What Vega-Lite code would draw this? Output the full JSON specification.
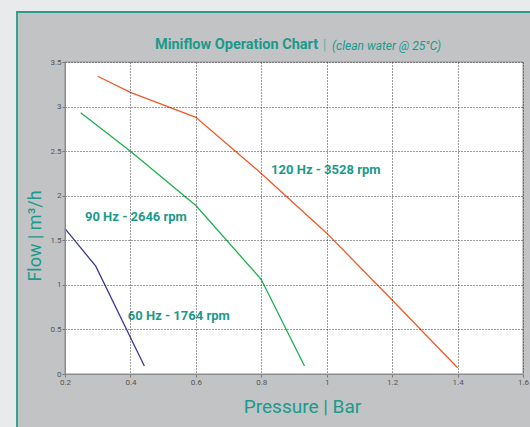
{
  "$schema": "https://vega.github.io/schema/vega-lite/v6.json",
  "autosize": "none",
  "width": 458,
  "height": 312,
  "padding": {"left": 65, "top": 62, "right": 7, "bottom": 53},
  "background": "#e9eaec",
  "config": {
    "view": {"stroke": null},
    "font": "Roboto",
    "axis": {
      "labelExpr": "'' + datum.value",
      "labelFlush": false,
      "labelOverlap": false,
      "labelFontSize": 8,
      "labelColor": "#555555",
      "labelPadding": 1,
      "tickSize": 3,
      "tickColor": "#777777",
      "domainColor": "#8c8c8c",
      "grid": true,
      "gridColor": "#3a3a3a",
      "gridDash": [1, 2],
      "gridWidth": 1,
      "titleFontWeight": "normal",
      "titleColor": "#1b9a8c",
      "titleAlign": "center",
      "titleBaseline": "alphabetic"
    },
    "axisX": {
      "tickCount": 7,
      "titleFontSize": 19,
      "titleX": 237,
      "titleY": 38.6
    },
    "axisY": {
      "tickCount": 7,
      "titleFontSize": 18,
      "titleAngle": -90,
      "titleX": -24.3,
      "titleY": 173.5
    }
  },
  "datasets": {
    "curves": [
      {"series": "120 Hz", "pressure": 0.3, "flow": 3.34},
      {"series": "120 Hz", "pressure": 0.4, "flow": 3.16},
      {"series": "120 Hz", "pressure": 0.6, "flow": 2.88},
      {"series": "120 Hz", "pressure": 0.8, "flow": 2.25},
      {"series": "120 Hz", "pressure": 1.0, "flow": 1.58},
      {"series": "120 Hz", "pressure": 1.2, "flow": 0.83},
      {"series": "120 Hz", "pressure": 1.4, "flow": 0.07},
      {"series": "90 Hz", "pressure": 0.248, "flow": 2.93},
      {"series": "90 Hz", "pressure": 0.4, "flow": 2.5},
      {"series": "90 Hz", "pressure": 0.6, "flow": 1.89},
      {"series": "90 Hz", "pressure": 0.8, "flow": 1.06},
      {"series": "90 Hz", "pressure": 0.932, "flow": 0.09},
      {"series": "60 Hz", "pressure": 0.2, "flow": 1.63},
      {"series": "60 Hz", "pressure": 0.294, "flow": 1.21},
      {"series": "60 Hz", "pressure": 0.4425, "flow": 0.09}
    ],
    "labels": [
      {"label": "120 Hz - 3528 rpm", "pressure": 0.83, "flow": 2.29},
      {"label": "90 Hz - 2646 rpm", "pressure": 0.261, "flow": 1.765},
      {"label": "60 Hz - 1764 rpm", "pressure": 0.392, "flow": 0.654}
    ]
  },
  "layer": [
    {
      "data": {"values": [{}]},
      "mark": {"type": "rect", "fill": "#c2c3c5", "stroke": "#2a9d8f", "strokeWidth": 1.8},
      "encoding": {
        "x": {"datum": 0.0532, "type": "quantitative", "scale": {"domain": [0.2, 1.6], "nice": false, "zero": false}, "title": "Pressure | Bar", "axis": {"zindex": 1}},
        "x2": {"datum": 1.7},
        "y": {"datum": -0.7, "type": "quantitative", "scale": {"domain": [0, 3.5], "nice": false, "zero": false}, "title": "Flow | m³/h", "axis": {"zindex": 1}},
        "y2": {"datum": 4.061}
      }
    },
    {
      "data": {"values": [{}]},
      "mark": {"type": "rect", "fill": "#ffffff", "stroke": "#8c8c8c", "strokeWidth": 1},
      "encoding": {
        "x": {"datum": 0.2, "type": "quantitative", "scale": {"domain": [0.2, 1.6], "nice": false, "zero": false}, "title": "Pressure | Bar", "axis": {"zindex": 1}},
        "x2": {"datum": 1.6},
        "y": {"datum": 0, "type": "quantitative", "scale": {"domain": [0, 3.5], "nice": false, "zero": false}, "title": "Flow | m³/h", "axis": {"zindex": 1}},
        "y2": {"datum": 3.5}
      }
    },
    {
      "data": {"name": "curves"},
      "mark": {"type": "line", "strokeWidth": 1.3},
      "encoding": {
        "x": {"field": "pressure", "type": "quantitative", "scale": {"domain": [0.2, 1.6], "nice": false, "zero": false}, "title": "Pressure | Bar", "axis": {"zindex": 1}},
        "y": {"field": "flow", "type": "quantitative", "scale": {"domain": [0, 3.5], "nice": false, "zero": false}, "title": "Flow | m³/h", "axis": {"zindex": 1}},
        "color": {
          "field": "series", "type": "nominal",
          "scale": {"domain": ["120 Hz", "90 Hz", "60 Hz"], "range": ["#f05a28", "#1db14b", "#3b3a98"]},
          "legend": null
        },
        "order": {"field": "pressure", "type": "quantitative"}
      }
    },
    {
      "data": {"name": "labels"},
      "mark": {"type": "text", "align": "left", "baseline": "middle", "fontSize": 13, "fontWeight": "bold", "color": "#1b9a8c"},
      "encoding": {
        "x": {"field": "pressure", "type": "quantitative", "scale": {"domain": [0.2, 1.6], "nice": false, "zero": false}, "title": "Pressure | Bar", "axis": {"zindex": 1}},
        "y": {"field": "flow", "type": "quantitative", "scale": {"domain": [0, 3.5], "nice": false, "zero": false}, "title": "Flow | m³/h", "axis": {"zindex": 1}},
        "text": {"field": "label"}
      }
    },
    {
      "data": {"values": [{"t": "Miniflow Operation Chart"}]},
      "mark": {"type": "text", "align": "right", "baseline": "middle", "fontSize": 14.5, "fontWeight": "bold", "color": "#1b9a8c"},
      "encoding": {
        "x": {"datum": 0.974, "type": "quantitative", "scale": {"domain": [0.2, 1.6], "nice": false, "zero": false}, "title": "Pressure | Bar", "axis": {"zindex": 1}},
        "y": {"datum": 3.687, "type": "quantitative", "scale": {"domain": [0, 3.5], "nice": false, "zero": false}, "title": "Flow | m³/h", "axis": {"zindex": 1}},
        "text": {"field": "t"}
      }
    },
    {
      "data": {"values": [{"t": "|"}]},
      "mark": {"type": "text", "align": "center", "baseline": "middle", "fontSize": 15, "color": "#5fb8ad"},
      "encoding": {
        "x": {"datum": 0.9936, "type": "quantitative", "scale": {"domain": [0.2, 1.6], "nice": false, "zero": false}, "title": "Pressure | Bar", "axis": {"zindex": 1}},
        "y": {"datum": 3.687, "type": "quantitative", "scale": {"domain": [0, 3.5], "nice": false, "zero": false}, "title": "Flow | m³/h", "axis": {"zindex": 1}},
        "text": {"field": "t"}
      }
    },
    {
      "data": {"values": [{"t": "(clean water @ 25°C)"}]},
      "mark": {"type": "text", "align": "left", "baseline": "middle", "fontSize": 12, "fontStyle": "italic", "color": "#1b9a8c"},
      "encoding": {
        "x": {"datum": 1.0165, "type": "quantitative", "scale": {"domain": [0.2, 1.6], "nice": false, "zero": false}, "title": "Pressure | Bar", "axis": {"zindex": 1}},
        "y": {"datum": 3.68, "type": "quantitative", "scale": {"domain": [0, 3.5], "nice": false, "zero": false}, "title": "Flow | m³/h", "axis": {"zindex": 1}},
        "text": {"field": "t"}
      }
    }
  ]
}
